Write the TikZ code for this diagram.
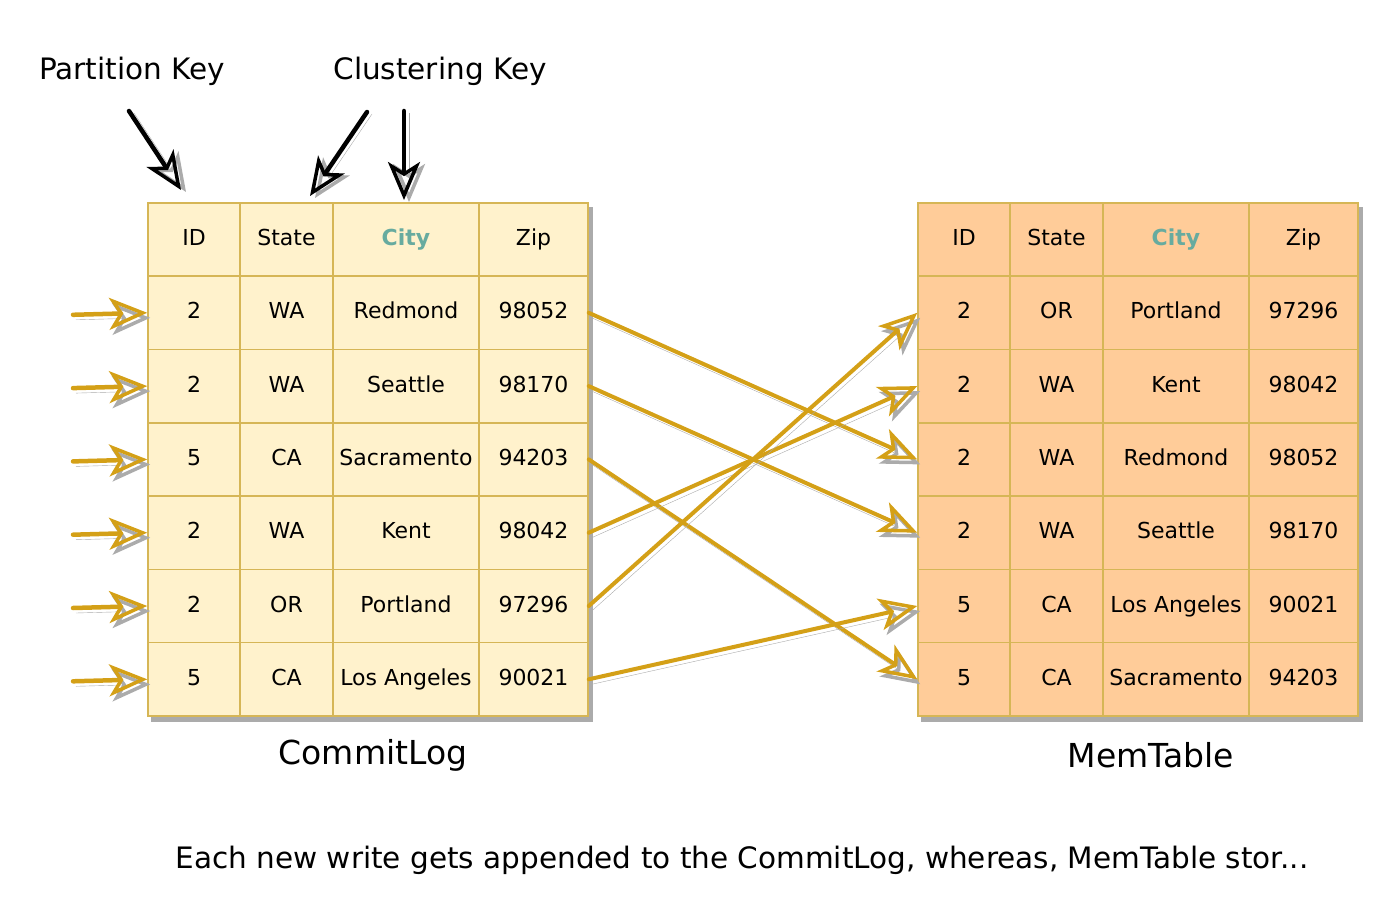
\documentclass[tikz,border=0pt]{standalone}
\usepackage{fontspec}
\setmainfont{DejaVu Sans}
\usetikzlibrary{arrows.meta,backgrounds,calc}

\definecolor{logfill}{HTML}{FFF2CC}
\definecolor{memfill}{HTML}{FFCC99}
\definecolor{cellline}{HTML}{D6B656}
\definecolor{citygreen}{HTML}{67AB9F}
\definecolor{feedgold}{HTML}{D4A017}
\definecolor{shadowgray}{HTML}{ABABAB}

\tikzset{
  cell/.style={draw=cellline, line width=1.5pt, minimum height=73.3pt,
    inner sep=0pt, text height=16pt, text depth=4pt,
    font=\fontsize{22}{26}\selectfont},
  Lfill/.style={fill=logfill},
  Rfill/.style={fill=memfill},
  feed/.style={draw=feedgold, line width=4.5pt, line cap=round,
    -{Stealth[open, length=38pt, width=32pt, inset=10pt, line width=3.5pt]},
    preaction={draw=shadowgray, transform canvas={shift={(3pt,-5pt)}}}},
  keyarrow/.style={draw=black, line width=4.5pt, line cap=round,
    -{Stealth[open, length=38pt, width=32pt, inset=10pt, line width=3.5pt]},
    preaction={draw=shadowgray, transform canvas={shift={(5pt,-2pt)}}}},
  keytext/.style={font=\fontsize{29.5}{35}\selectfont},
  tabletitle/.style={font=\fontsize{33}{40}\selectfont},
  note/.style={font=\fontsize{29.5}{35}\selectfont}
}

% one table row: #1 table, #2 left x, #3 row, #4-#7 cell texts
\newcommand{\cellrow}[7]{%
  \node[cell, #1fill, minimum width=92pt]  (#1-#3-1) at ({#2+46},{239.5+73.3*#3}) {#4};
  \node[cell, #1fill, minimum width=93pt]  (#1-#3-2) at ({#2+138.5},{239.5+73.3*#3}) {#5};
  \node[cell, #1fill, minimum width=146pt] (#1-#3-3) at ({#2+258},{239.5+73.3*#3}) {#6};
  \node[cell, #1fill, minimum width=109pt] (#1-#3-4) at ({#2+385.5},{239.5+73.3*#3}) {#7};
}
\newcommand{\cityhead}{\textbf{\color{citygreen}City}}

\begin{document}
\begin{tikzpicture}[x=1pt, y=-1pt]
  \useasboundingbox (0,0) rectangle (1400,923);

  % key labels
  \node[keytext] (pk) at (132,71) {Partition Key};
  \node[keytext] (ck) at (440,71) {Clustering Key};

  % CommitLog table
  \cellrow{L}{148}{0}{ID}{State}{\cityhead}{Zip}
  \cellrow{L}{148}{1}{2}{WA}{Redmond}{98052}
  \cellrow{L}{148}{2}{2}{WA}{Seattle}{98170}
  \cellrow{L}{148}{3}{5}{CA}{Sacramento}{94203}
  \cellrow{L}{148}{4}{2}{WA}{Kent}{98042}
  \cellrow{L}{148}{5}{2}{OR}{Portland}{97296}
  \cellrow{L}{148}{6}{5}{CA}{Los Angeles}{90021}

  % MemTable table
  \cellrow{R}{918}{0}{ID}{State}{\cityhead}{Zip}
  \cellrow{R}{918}{1}{2}{OR}{Portland}{97296}
  \cellrow{R}{918}{2}{2}{WA}{Kent}{98042}
  \cellrow{R}{918}{3}{2}{WA}{Redmond}{98052}
  \cellrow{R}{918}{4}{2}{WA}{Seattle}{98170}
  \cellrow{R}{918}{5}{5}{CA}{Los Angeles}{90021}
  \cellrow{R}{918}{6}{5}{CA}{Sacramento}{94203}

  % table shadows
  \begin{scope}[on background layer]
    \fill[shadowgray] ($(L-0-1.north west)+(4,5)$) rectangle ($(L-6-4.south east)+(4,5)$);
    \fill[shadowgray] ($(R-0-1.north west)+(4,5)$) rectangle ($(R-6-4.south east)+(4,5)$);
  \end{scope}

  \node[tabletitle] (logtitle) at (373,755) {CommitLog};
  \node[tabletitle] (memtitle) at (1151,755) {MemTable};

  % key arrows
  \coordinate (pk-tail) at (129,111);
  \coordinate (pk-head) at (181,190);
  \coordinate (ck-tail1) at (367,112);
  \coordinate (ck-head1) at (310,196);
  \coordinate (ck-tail2) at (404,111);
  \coordinate (ck-head2) at (404,200);
  \draw[keyarrow] (pk-tail) -- (pk-head);
  \draw[keyarrow] (ck-tail1) -- (ck-head1);
  \draw[keyarrow] (ck-tail2) -- (ck-head2);

  % incoming writes
  \foreach \r in {1,...,6} {
    \coordinate (in-\r) at (73,{239.5+73.3*\r+2});
    \draw[feed] (in-\r) -- (L-\r-1.west);
  }

  % CommitLog rows into sorted MemTable
  \foreach \a/\b in {1/3, 2/4, 3/6, 4/2, 5/1, 6/5}
    \draw[feed, line width=4pt] (L-\a-4.east) -- (R-\b-1.west);

  \node[note] (caption) at (742,860) {Each new write gets appended to the CommitLog, whereas, MemTable stor...};
\end{tikzpicture}
\end{document}
